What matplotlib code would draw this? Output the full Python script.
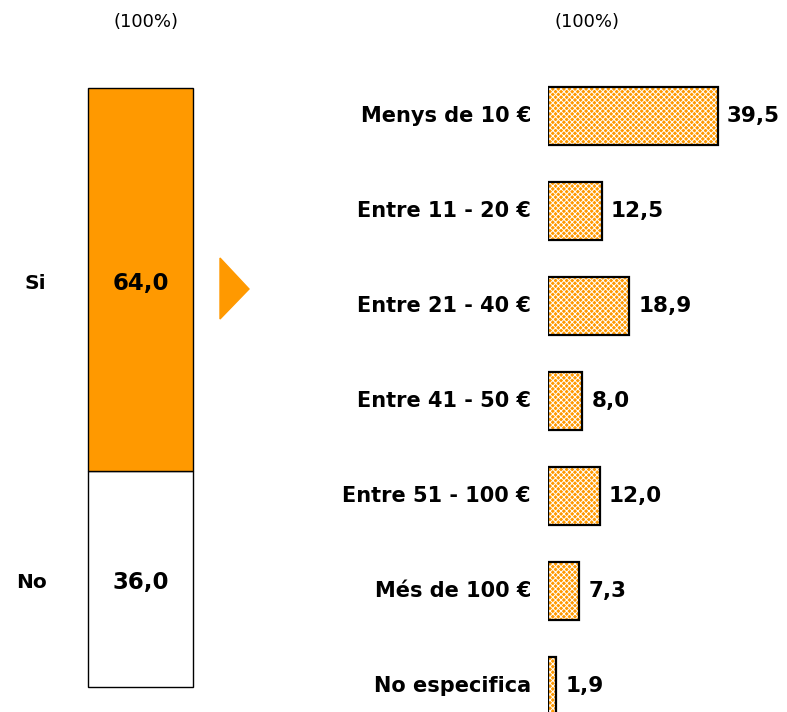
import matplotlib.pyplot as plt
from matplotlib.patches import Polygon

# ── Data ────────────────────────────────────────────────
answers      = ['Si', 'No']
answer_vals  = [64.0, 36.0]
categories   = ['Menys de 10 €', 'Entre 11 - 20 €', 'Entre 21 - 40 €',
                'Entre 41 - 50 €', 'Entre 51 - 100 €', 'Més de 100 €',
                'No especifica']
values       = [39.5, 12.5, 18.9, 8.0, 12.0, 7.3, 1.9]
header       = '(100%)'

ORANGE = '#FF9900'
W, H = 787, 712
plt.rcParams['hatch.linewidth'] = 0.7

fig = plt.figure(figsize=(W / 100, H / 100), dpi=100)

def fig_ax(x0, x1):
    # axes spanning full figure height between pixel columns x0..x1
    ax = fig.add_axes([x0 / W, 0, (x1 - x0) / W, 1])
    ax.axis('off')
    return ax

# ── Left: stacked Si / No bar ───────────────────────────
axl = fig_ax(0, 260)
px = 599 / 100.0                      # pixels per percent
axl.set_ylim(-(H - 687) / px, 100 + 88 / px)
axl.set_xlim(-140.5 / 105, (260 - 140.5) / 105)
bottom = 0
colors = ['white', ORANGE]
label_x = {'Si': -1.0, 'No': -1.04}
for name, val, col in zip(answers[::-1], answer_vals[::-1], colors):
    axl.bar(0, val, width=1, bottom=bottom, color=col,
            edgecolor='black', linewidth=1)
    mid = bottom + val / 2
    axl.text(0, mid - 0.6, f"{val:.1f}".replace('.', ','), ha='center',
             va='center', fontsize=16.5, fontweight='bold')
    axl.text(label_x[name], mid - 0.6, name, ha='center', va='center',
             fontsize=14.5, fontweight='bold')
    bottom += val

# ── Right: spending bars ────────────────────────────────
axr = fig_ax(548, W)
unit = 170 / 39.5                     # pixels per value unit
axr.set_xlim(0, (W - 548) / unit)
step = 95.0
axr.set_ylim((H - 116) / step, -116 / step)
ypos = list(range(len(categories)))
axr.barh(ypos, values, height=0.61, color=ORANGE, edgecolor='white',
         hatch='xxxxxx', linewidth=0)
axr.barh(ypos, values, height=0.61, fill=False, edgecolor='black',
         linewidth=1.6)
for y, v, cat in zip(ypos, values, categories):
    axr.text(v + 9 / unit, y, f"{v:.1f}".replace('.', ','), ha='left',
             va='center', fontsize=15.5, fontweight='bold')
    axr.text(-17 / unit, y, cat, ha='right', va='center',
             fontsize=15, fontweight='bold', clip_on=False)

# ── Headers and arrow ───────────────────────────────────
for hx in (146, 587):
    fig.text(hx / W, 1 - 22 / H, header, ha='center', va='center',
             fontsize=13, family='DejaVu Sans')
tri = Polygon([(220 / W, 1 - 258 / H), (249 / W, 1 - 289 / H),
               (220 / W, 1 - 319 / H)], closed=True, color=ORANGE,
              transform=fig.transFigure)
fig.patches.append(tri)

plt.savefig('out.png', dpi=100)
